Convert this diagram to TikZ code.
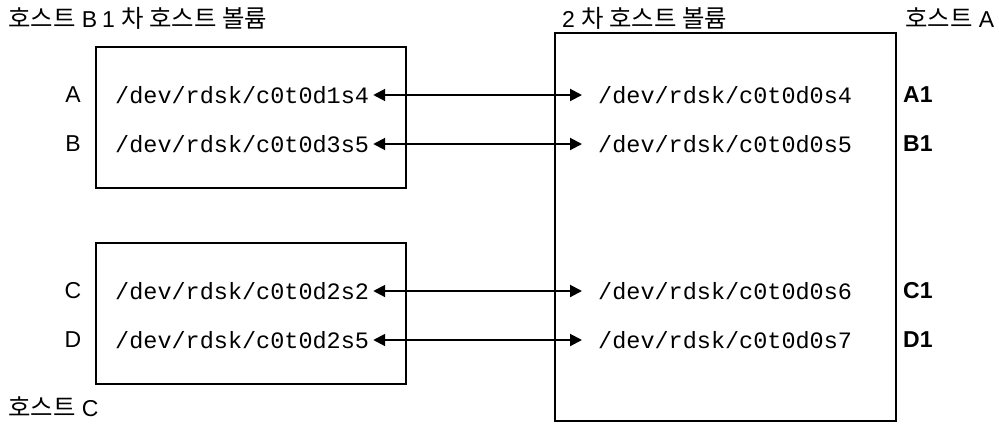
\documentclass[tikz,border=0pt]{standalone}
\usepackage{fontspec}
\setmainfont{Liberation Sans}
\setmonofont{Liberation Mono}
\newfontfamily\kr[Scale=1.06]{Noto Sans CJK KR}
\usetikzlibrary{arrows.meta}
\begin{document}
\begin{tikzpicture}[x=1pt,y=-1pt,
  hostbox/.style={draw,line width=1.5pt},
  devtxt/.style={anchor=west,inner sep=2pt,font=\fontsize{23.5}{24}\ttfamily},
  lettxt/.style={font=\fontsize{23}{26}\selectfont},
  boldtxt/.style={anchor=west,inner sep=0pt,font=\fontsize{23}{26}\bfseries},
  toptxt/.style={anchor=west,inner sep=0pt,font=\fontsize{23}{26}\selectfont},
  link/.style={line width=2pt,{Triangle[length=12pt,width=12pt]}-{Triangle[length=12pt,width=12pt]},shorten <=2pt,shorten >=14pt}]
\useasboundingbox (0,0) rectangle (999,432);
% boxes
\draw[hostbox] (96,47) rectangle (406,188);
\draw[hostbox] (96,243) rectangle (406,384);
\draw[hostbox] (555,33) rectangle (896,421);
% titles
\node[toptxt] (tB) at (8,18) {{\kr 호스트} B\hspace{5pt}1 {\kr 차 호스트 볼륨}};
\node[toptxt] (tS) at (562,18) {2 {\kr 차 호스트 볼륨}};
\node[toptxt] (tA) at (905,18) {{\kr 호스트} A};
\node[toptxt] (tC) at (8,407) {{\kr 호스트} C};
% left letters
\node[lettxt] (la) at (73,95) {A};
\node[lettxt] (lb) at (73,144) {B};
\node[lettxt] (lc) at (73,291) {C};
\node[lettxt] (ld) at (73,340) {D};
% left devices
\node[devtxt] (l1) at (113,95) {/dev/rdsk/c0t0d1s4};
\node[devtxt] (l2) at (113,144) {/dev/rdsk/c0t0d3s5};
\node[devtxt] (l3) at (113,291) {/dev/rdsk/c0t0d2s2};
\node[devtxt] (l4) at (113,340) {/dev/rdsk/c0t0d2s5};
% right devices
\node[devtxt] (r1) at (596,95) {/dev/rdsk/c0t0d0s4};
\node[devtxt] (r2) at (596,144) {/dev/rdsk/c0t0d0s5};
\node[devtxt] (r3) at (596,291) {/dev/rdsk/c0t0d0s6};
\node[devtxt] (r4) at (596,340) {/dev/rdsk/c0t0d0s7};
% right labels
\node[boldtxt] (a1) at (903,95) {A1};
\node[boldtxt] (b1) at (903,144) {B1};
\node[boldtxt] (c1) at (903,291) {C1};
\node[boldtxt] (d1) at (903,340) {D1};
% links
\draw[link] (l1.east) -- (r1.west);
\draw[link] (l2.east) -- (r2.west);
\draw[link] (l3.east) -- (r3.west);
\draw[link] (l4.east) -- (r4.west);
\end{tikzpicture}
\end{document}
